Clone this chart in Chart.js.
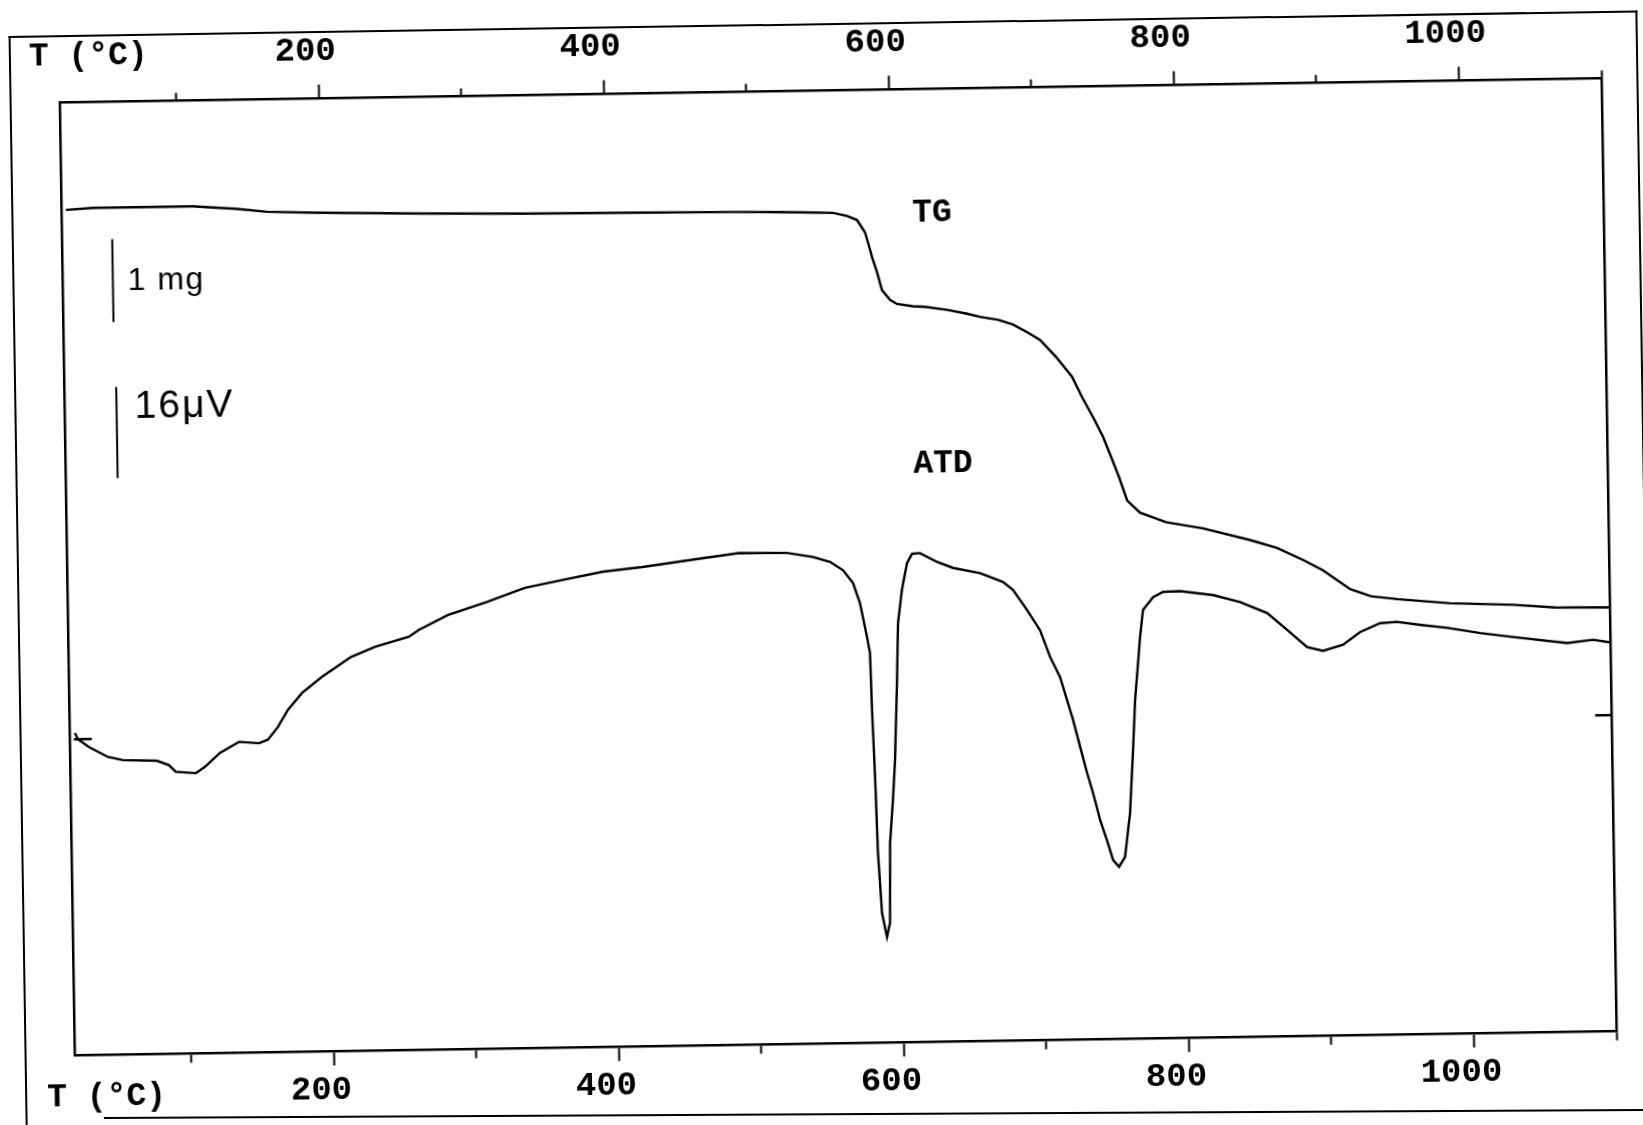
<!DOCTYPE html>
<html>
<head>
<meta charset="utf-8">
<script src="https://cdn.jsdelivr.net/npm/chart.js@4.4.1/dist/chart.umd.min.js"></script>
<style>
  html, body { margin: 0; padding: 0; background: #fff; overflow: hidden; width: 1643px; height: 1125px; }
  #wrap { position: absolute; left: -30px; top: -30px; width: 1703px; height: 1185px;
          transform: rotate(-0.9deg); transform-origin: 868px 597px; }
  #frame { position: absolute; left: 47px; top: 53px; width: 1629px; height: 1120px;
           border: 2px solid #000; border-bottom: none; box-sizing: border-box; }
  #bottomLine { position: absolute; left: 104px; top: 1117px; width: 1560px; height: 0;
                border-top: 2px solid #000; transform: rotate(-0.3deg); transform-origin: 0 0; }
  canvas { position: absolute; left: 0; top: 0; }
</style>
</head>
<body>
<div id="wrap">
  <div id="frame"></div>
  <canvas id="c" width="1703" height="1185"></canvas>
</div>
<div id="bottomLine"></div>
<script>
// ---- axis ticks (°C) ----
const tempTicks  = [100, 200, 300, 400, 500, 600, 700, 800, 900, 1000, 1100];
const tempLabels = [200, 400, 600, 800, 1000];

// ---- TG curve: temperature (°C) and mass change (mg) ----
const tgTemp = [21.2, 40.2, 110.3, 141.2, 162.3, 195.2, 269.6, 342.6, 417.0, 489.3, 522.3, 541.2, 559.5,
  569.2, 576.1, 581.6, 585.0, 586.3, 589.6, 592.9, 598.5, 603.3, 614.6, 623.0, 638.4, 652.3, 661.4,
  674.1, 684.5, 695.0, 703.3, 714.4, 725.3, 732.2, 739.6, 746.4, 751.8, 757.2, 762.6, 771.5, 789.7,
  815.5, 848.4, 867.3, 885.4, 899.3, 918.1, 932.7, 950.9, 988.0, 1032.2, 1061.7, 1100];
const tgMass = [0.0, 0.02, 0.02, -0.02, -0.06, -0.08, -0.11, -0.13, -0.14, -0.15, -0.16, -0.17, -0.18,
  -0.22, -0.27, -0.42, -0.63, -0.72, -0.90, -1.12, -1.24, -1.29, -1.32, -1.33, -1.37, -1.42, -1.46,
  -1.50, -1.56, -1.66, -1.75, -1.96, -2.20, -2.45, -2.69, -2.93, -3.17, -3.42, -3.70, -3.85, -3.97,
  -4.05, -4.20, -4.30, -4.45, -4.58, -4.81, -4.90, -4.94, -5.00, -5.03, -5.07, -5.08];

// ---- ATD curve: temperature (°C) and signal (µV, arbitrary zero) ----
const atdTemp = [21.8, 23.8, 31.5, 44.7, 55.2, 79.0, 87.4, 92.2, 106.3, 112.7, 123.3, 136.8, 150.8, 157.1,
  164.3, 171.5, 181.5, 195.7, 216.3, 233.2, 257.2, 264.3, 284.8, 312.4, 339.2, 366.6, 394.0, 421.5,
  455.2, 489.7, 523.4, 541.6, 553.5, 562.5, 569.4, 574.0, 578.6, 580.5, 581.3, 582.7, 583.9, 586.1,
  589.3, 591.6, 592.5, 595.0, 596.9, 599.1, 600.5, 603.6, 607.5, 611.1, 616.7, 628.5, 639.7, 658.6,
  674.6, 681.5, 691.1, 700.1, 706.8, 713.6, 718.2, 722.3, 726.9, 731.5, 735.5, 740.1, 744.7, 748.8,
  752.9, 757.2, 761.2, 764.0, 766.0, 770.2, 772.5, 779.7, 786.8, 798.7, 821.9, 840.7, 859.6, 873.4,
  887.2, 898.4, 912.5, 924.6, 938.7, 950.6, 966.8, 985.6, 1008.8, 1031.9, 1069.7, 1088.0, 1100];
const atdSignal = [56.7, 55.6, 54.2, 52.4, 51.8, 51.6, 50.8, 49.6, 49.3, 50.4, 52.8, 54.7, 54.4, 55.0,
  57.2, 60.2, 63.1, 65.9, 69.3, 71.0, 72.7, 73.9, 76.4, 78.6, 81.0, 82.3, 83.6, 84.3,
  85.4, 86.5, 86.4, 85.6, 84.7, 83.2, 80.9, 77.4, 71.4, 68.6, 58.6, 46.8, 33.4, 22.8,
  18.6, 21.1, 35.1, 42.7, 49.7, 63.2, 73.8, 79.6, 84.3, 85.9, 86.0, 84.4, 83.3, 82.3,
  80.7, 79.3, 75.7, 72.1, 67.4, 63.8, 59.8, 56.2, 51.5, 46.9, 43.3, 38.6, 35.0, 31.5,
  30.3, 32.0, 39.7, 50.8, 59.6, 70.7, 75.4, 77.6, 78.5, 78.6, 77.8, 76.5, 74.5, 71.5,
  68.4, 67.7, 68.7, 70.9, 72.4, 72.6, 72.0, 71.4, 70.4, 69.6, 68.4, 68.9, 68.4];

// ---- scale bars and baseline marks ----
const tgBarTemp = [53.4, 53.4];   const tgBarMass = [-0.36, -1.36];     // 1 mg
const atdBarTemp = [54.6, 54.6];  const atdBarSignal = [117.4, 101.4];  // 16 µV
const markStartTemp = [21.0, 33.6]; const markEndTemp = [1088.6, 1100]; const markSignal = [55.6, 55.6];

const pts = (xs, ys) => xs.map((x, i) => ({ x: x, y: ys[i] }));

const monoBold = 'bold 33px "Liberation Mono", "DejaVu Sans Mono", monospace';
const textLabels = [
  { text: 'TG',   x: 615,  y: -0.305, axis: 'yTG',  font: monoBold, spacing: '0px' },
  { text: 'ATD',  x: 613,  y: 100.1,  axis: 'yATD', font: monoBold, spacing: '0px' },
  { text: '1 mg', x: 63.8, y: -0.976, axis: 'yTG',  font: '32px "Liberation Sans", Arial, sans-serif', spacing: '1.5px' },
  { text: '16μV', x: 67.3, y: 111.9,  axis: 'yATD', font: '39px "Liberation Sans", Arial, sans-serif', spacing: '2px' }
];

const textPlugin = {
  id: 'texts',
  afterDraw(chart) {
    const ctx = chart.ctx, ca = chart.chartArea, xs = chart.scales.x;
    ctx.save();
    ctx.fillStyle = '#000';
    ctx.textAlign = 'left';
    ctx.textBaseline = 'alphabetic';
    textLabels.forEach(l => {
      ctx.font = l.font;
      if ('letterSpacing' in ctx) ctx.letterSpacing = l.spacing;
      ctx.fillText(l.text, xs.getPixelForValue(l.x), chart.scales[l.axis].getPixelForValue(l.y));
    });
    if ('letterSpacing' in ctx) ctx.letterSpacing = '0px';
    ctx.font = monoBold;
    ctx.fillText('T (°C)', ca.left - 30, ca.top - 37.5);
    ctx.fillText('T (°C)', ca.left - 28, ca.bottom + 50);
    ctx.restore();
  }
};

const isMajor = v => tempLabels.includes(v);
function tempAxis(position, pad, dashMinor, size) {
  return {
    type: 'linear', position: position, min: 18, max: 1100,
    afterBuildTicks: s => { s.ticks = tempTicks.map(v => ({ value: v })); },
    afterFit: s => { s.height = size; },
    ticks: {
      autoSkip: false, maxRotation: 0, minRotation: 0, color: '#000', padding: pad, labelOffset: -13,
      font: { family: '"Liberation Mono", "DejaVu Sans Mono", monospace', size: 34, weight: 'bold' },
      callback: v => isMajor(v) ? String(v) : ''
    },
    grid: {
      drawOnChartArea: false, drawTicks: true, tickLength: 14, tickWidth: 2, tickColor: '#000',
      tickBorderDash: c => isMajor(c.tick.value) ? [] : dashMinor
    },
    border: { display: true, color: '#000', width: 2.5 }
  };
}
function hiddenAxis(position, min, max, width) {
  return {
    type: 'linear', position: position, min: min, max: max,
    afterFit: s => { s.width = width; },
    ticks: { display: false },
    grid: { drawOnChartArea: false, drawTicks: false },
    border: { display: true, color: '#000', width: 2.5 }
  };
}

const lineStyle = { borderColor: '#000', borderWidth: 2.4, pointRadius: 0, tension: 0, fill: false, xAxisID: 'x' };

new Chart(document.getElementById('c'), {
  type: 'line',
  data: {
    datasets: [
      Object.assign({ label: 'TG', data: pts(tgTemp, tgMass), yAxisID: 'yTG' }, lineStyle),
      Object.assign({ label: 'ATD', data: pts(atdTemp, atdSignal), yAxisID: 'yATD' }, lineStyle),
      Object.assign({ label: '1 mg', data: pts(tgBarTemp, tgBarMass), yAxisID: 'yTG' }, lineStyle, { borderWidth: 2 }),
      Object.assign({ label: '16 µV', data: pts(atdBarTemp, atdBarSignal), yAxisID: 'yATD' }, lineStyle, { borderWidth: 2 }),
      Object.assign({ label: 'start', data: pts(markStartTemp, markSignal), yAxisID: 'yATD' }, lineStyle),
      Object.assign({ label: 'end', data: pts(markEndTemp, markSignal), yAxisID: 'yATD' }, lineStyle)
    ]
  },
  options: {
    responsive: false, animation: false, devicePixelRatio: 1,
    layout: { padding: 0 },
    plugins: { legend: { display: false }, tooltip: { enabled: false }, title: { display: false } },
    scales: {
      x: tempAxis('bottom', 4.2, [8, 60], 111.5),
      xTop: tempAxis('top', 12.5, [0, 6, 8, 60], 120.5),
      yTG: hiddenAxis('left', -10.188, 1.294, 97),
      yATD: hiddenAxis('right', 0, 167.56, 64)
    }
  },
  plugins: [textPlugin]
});
</script>
</body>
</html>
